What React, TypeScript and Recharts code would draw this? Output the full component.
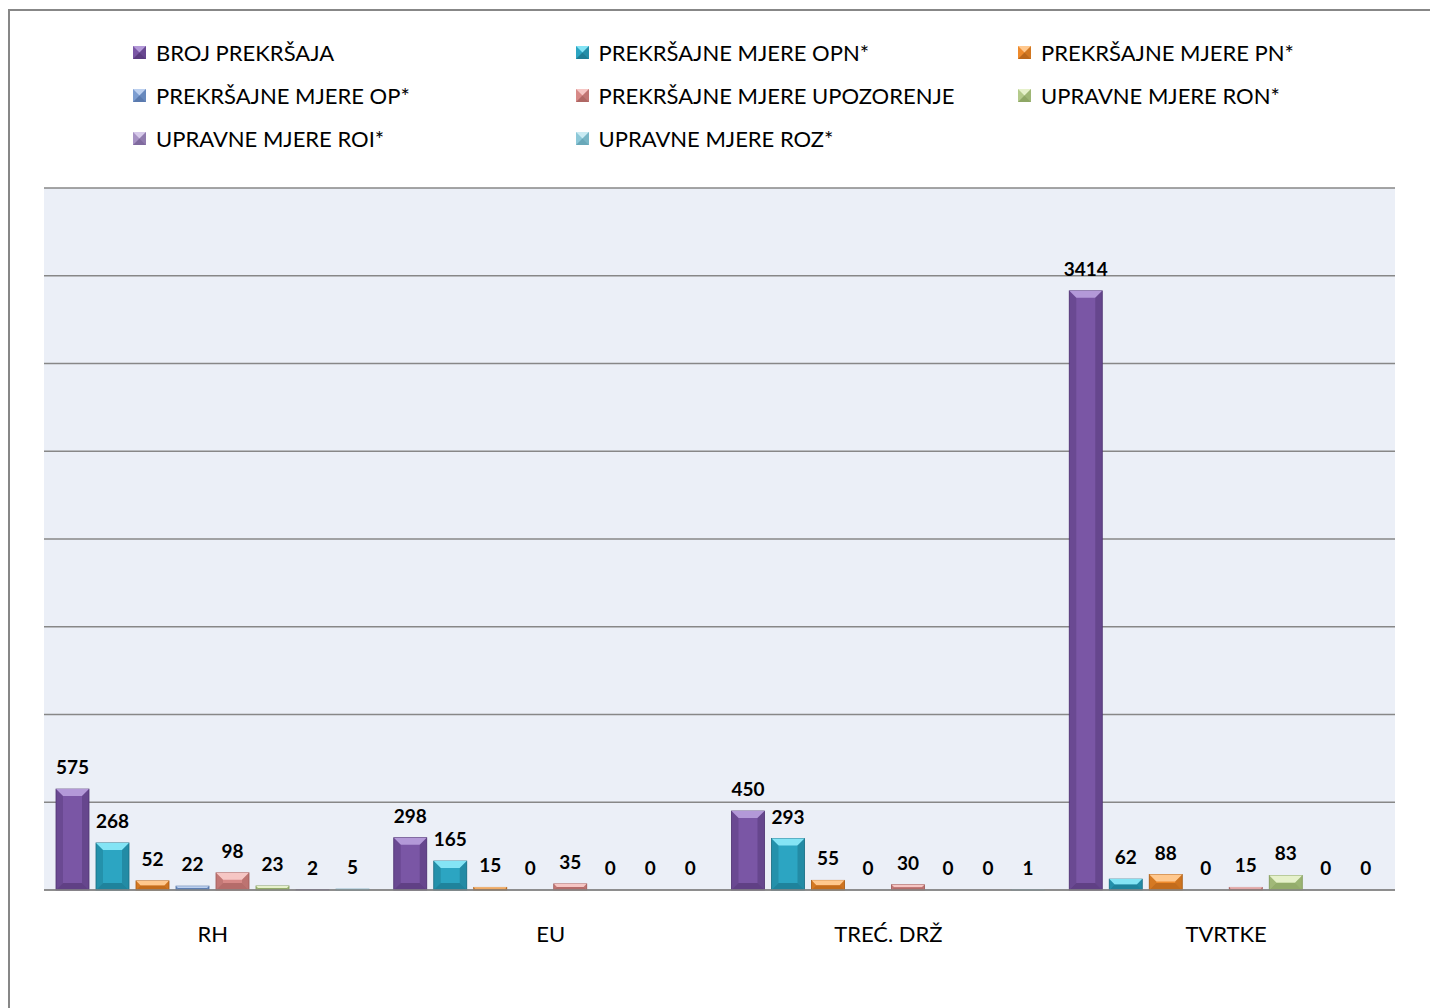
import { BarChart, Bar, XAxis, YAxis, CartesianGrid, Legend, LabelList } from 'recharts'

const FONT = 'Lato, "Open Sans", sans-serif'

const categories = ['RH', 'EU', 'TREĆ. DRŽ', 'TVRTKE']
const brojPrekrsaja = [575, 298, 450, 3414]
const mjereOpn = [268, 165, 293, 62]
const mjerePn = [52, 15, 55, 88]
const mjereOp = [22, 0, 0, 0]
const mjereUpozorenje = [98, 35, 30, 15]
const upravneRon = [23, 0, 0, 83]
const upravneRoi = [2, 0, 0, 0]
const upravneRoz = [5, 0, 1, 0]
const yTicks = [0, 500, 1000, 1500, 2000, 2500, 3000, 3500, 4000]

interface Serie { key: string; name: string; values: number[]; base: string; light: string; dark: string }

const series: Serie[] = [
  { key: 'broj', name: 'BROJ PREKRŠAJA', values: brojPrekrsaja, base: '#7A56A5', light: '#B399D8', dark: '#4E3270' },
  { key: 'opn', name: 'PREKRŠAJNE MJERE OPN*', values: mjereOpn, base: '#2CA5C2', light: '#84E4F5', dark: '#186C82' },
  { key: 'pn', name: 'PREKRŠAJNE MJERE PN*', values: mjerePn, base: '#EE8A2C', light: '#FFC88E', dark: '#A65912' },
  { key: 'op', name: 'PREKRŠAJNE MJERE OP*', values: mjereOp, base: '#7C9DD0', light: '#BCD0EF', dark: '#4B6B9F' },
  { key: 'upoz', name: 'PREKRŠAJNE MJERE UPOZORENJE', values: mjereUpozorenje, base: '#D78987', light: '#F6C6C4', dark: '#9E5856' },
  { key: 'ron', name: 'UPRAVNE MJERE RON*', values: upravneRon, base: '#B4CA8B', light: '#E6F1CB', dark: '#7D9856' },
  { key: 'roi', name: 'UPRAVNE MJERE ROI*', values: upravneRoi, base: '#A792C4', light: '#D7CAEA', dark: '#6E5A8E' },
  { key: 'roz', name: 'UPRAVNE MJERE ROZ*', values: upravneRoz, base: '#8CC8D8', light: '#CAEBF3', dark: '#5A9AAC' },
]

const data = categories.map((name, i) => {
  const row: Record<string, string | number> = { name }
  series.forEach(s => { row[s.key] = s.values[i] })
  return row
})

// bevelled bar like the office 3D preset
function BevelBar(props: any) {
  const { x, y, width, height, s } = props as { x: number; y: number; width: number; height: number; s: Serie }
  if (!height || height <= 0) return null
  const b = Math.min(7, height / 2, width / 2)
  const r = x + width
  const bt = y + height
  return (
    <g>
      <rect x={x} y={y} width={width} height={height} fill={s.base} stroke={s.dark} strokeWidth={0.8} />
      <polygon points={`${x},${y} ${r},${y} ${r - b},${y + b} ${x + b},${y + b}`} fill={s.light} />
      <polygon points={`${x},${y} ${x + b},${y + b} ${x + b},${bt - b} ${x},${bt}`} fill={s.dark} opacity={0.35} />
      <polygon points={`${r},${y} ${r - b},${y + b} ${r - b},${bt - b} ${r},${bt}`} fill={s.dark} opacity={0.45} />
      <polygon points={`${x},${bt} ${r},${bt} ${r - b},${bt - b} ${x + b},${bt - b}`} fill={s.dark} opacity={0.6} />
    </g>
  )
}

const NoTick = () => <g />

function Marker({ s }: { s: Serie }) {
  return (
    <svg width={13} height={13} style={{ display: 'block' }}>
      <rect x={0} y={0} width={13} height={13} fill={s.base} />
      <polygon points="0,0 13,0 6.5,6.5" fill={s.light} />
      <polygon points="13,0 6.5,6.5 13,13" fill={s.dark} opacity={0.4} />
      <polygon points="0,13 13,13 6.5,6.5" fill={s.dark} opacity={0.7} />
    </svg>
  )
}

function LegendBox() {
  return (
    <div style={{ position: 'relative', width: 1300, height: 150, fontFamily: FONT }}>
      {series.map((s, i) => (
        <div
          key={s.key}
          style={{
            position: 'absolute',
            left: 123 + (i % 3) * 442.5,
            top: 28 + Math.floor(i / 3) * 43,
            display: 'flex', alignItems: 'center', gap: 10,
            fontSize: 22, color: '#000', whiteSpace: 'nowrap',
          }}
        >
          <Marker s={s} />
          <span>{s.name}</span>
        </div>
      ))}
    </div>
  )
}

export default function App() {
  return (
    <div style={{
      width: 1428, height: 997, marginTop: 1, position: 'relative', background: '#fff',
      borderTop: '2px solid #878787', borderLeft: '2px solid #878787',
    }}>
      <BarChart
        width={1428} height={997} data={data}
        margin={{ top: 177, right: 43, bottom: 58, left: 34 }}
        barCategoryGap={12} barGap={7}
      >
        <CartesianGrid vertical={false} stroke="#878787" strokeWidth={1.6} fill="#EBEFF7" fillOpacity={1} />
        <XAxis
          dataKey="name" height={60} tickLine={false} tickMargin={30}
          axisLine={{ stroke: '#878787', strokeWidth: 1.6 }}
          tick={{ fill: '#000', fontSize: 22, fontFamily: FONT }}
        />
        <YAxis domain={[0, 4000]} ticks={yTicks} width={0} tick={<NoTick />} axisLine={false} tickLine={false} />
        <Legend
          layout="horizontal" verticalAlign="middle" align="center"
          wrapperStyle={{ top: 0, left: 0, width: 1300, height: 150 }}
          content={() => <LegendBox />}
        />
        {series.map(s => (
          <Bar
            key={s.key} dataKey={s.key} name={s.name} fill={s.base}
            isAnimationActive={false}
            shape={(p: any) => <BevelBar {...p} s={s} />}
          >
            <LabelList
              dataKey={s.key} position="top" offset={15}
              style={{ fontWeight: 700, fontSize: 19, fill: '#000', fontFamily: FONT }}
            />
          </Bar>
        ))}
      </BarChart>
    </div>
  )
}
